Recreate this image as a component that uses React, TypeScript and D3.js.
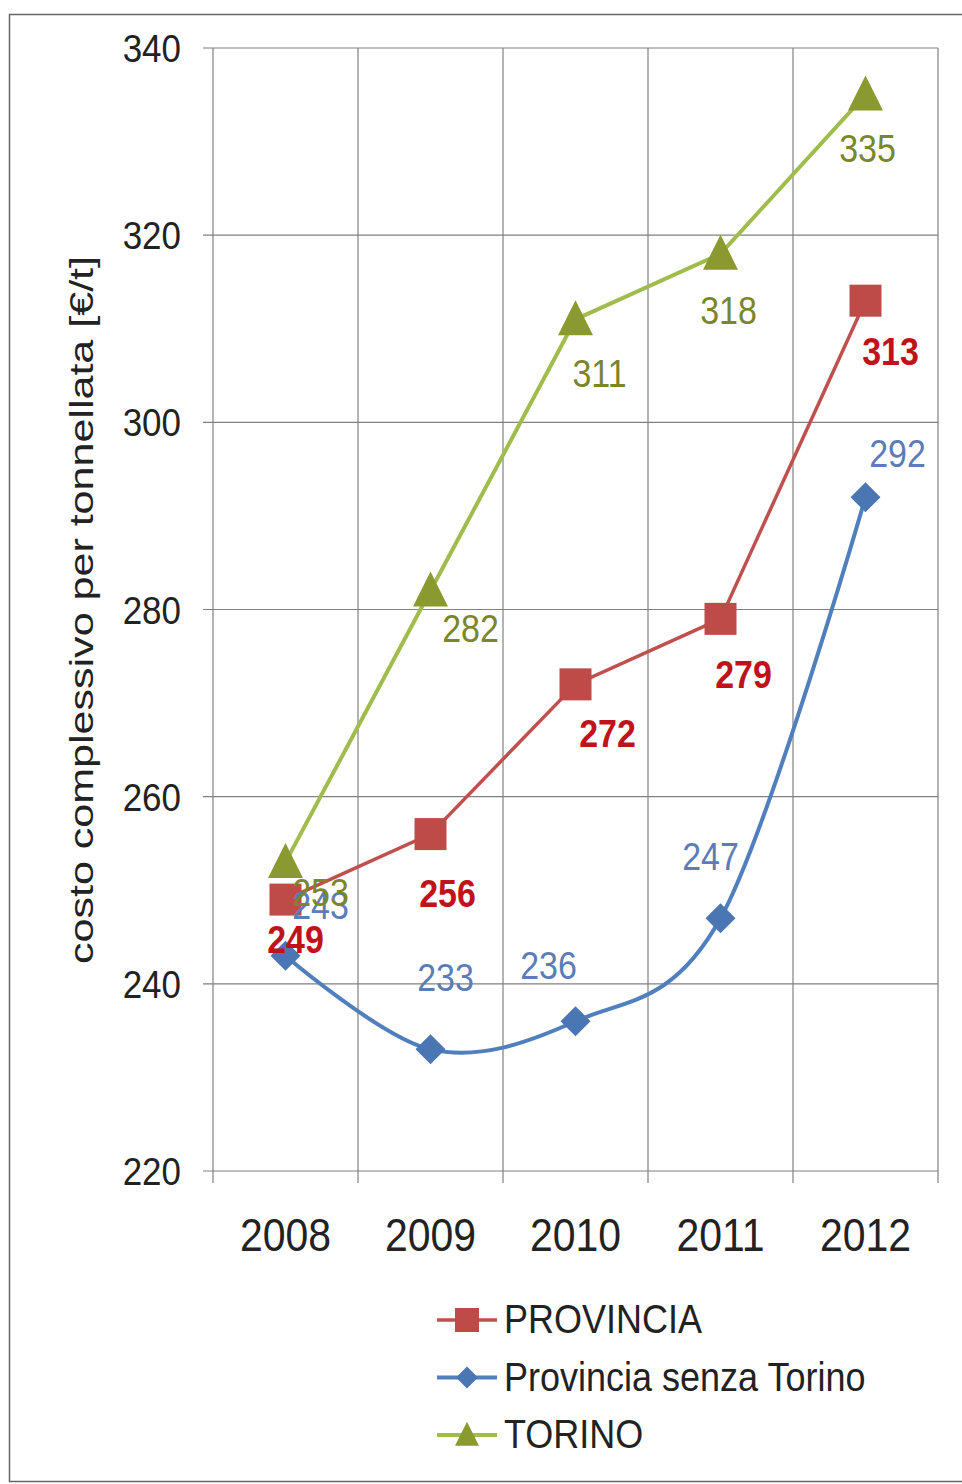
import React from "react";
import * as d3 from "d3";

const years = ["2008", "2009", "2010", "2011", "2012"];
const provincia = [249, 256, 272, 279, 313];
const senzaTorino = [243, 233, 236, 247, 292];
const torino = [253, 282, 311, 318, 335];
const yTicks = [220, 240, 260, 280, 300, 320, 340];
const yTitle = "costo complessivo per tonnellata [€/t]";
const legendLabels = ["PROVINCIA", "Provincia senza Torino", "TORINO"];

// label offsets (layout only): [dx, dy] of label centre from point
const provLabelOff = [[10, 40], [17, 60], [32, 50], [23, 56], [25, 51]];
const senzaLabelOff = [[35, -50], [15, -71], [-27, -55], [-10, -61], [32, -43]];
const torinoLabelOff = [[35, 31], [40, 38], [24, 55], [8, 57], [2, 54]];

const W = 962, H = 1484;
const L = 213, R = 938, T = 48, B = 1171;
const SY = 1.12;
const FONT = "'Liberation Sans', Arial, sans-serif";

function ST({ x, y, size, fill, anchor = "middle", weight = "normal", children }: any) {
  return (
    <text transform={`translate(${x},${y}) scale(1,${SY})`} fontSize={size} fill={fill}
      textAnchor={anchor} fontWeight={weight} fontFamily={FONT}>{children}</text>
  );
}

function marker(kind: string, x: number, y: number, s: number, fill: string, key?: any) {
  if (kind === "square") return <rect key={key} x={x - s / 2} y={y - s / 2} width={s} height={s} fill={fill} />;
  if (kind === "diamond") return <path key={key} d={`M${x},${y - s / 2}L${x + s / 2},${y}L${x},${y + s / 2}L${x - s / 2},${y}Z`} fill={fill} />;
  return <path key={key} d={`M${x},${y - s * 0.55}L${x + s / 2},${y + s * 0.45}L${x - s / 2},${y + s * 0.45}Z`} fill={fill} />;
}

export default function App() {
  const x = d3.scaleBand().domain(years).range([L, R]);
  const cx = (i: number) => (x(years[i]) as number) + x.bandwidth() / 2;
  const y = d3.scaleLinear().domain([220, 340]).range([B, T]);

  const straight = d3.line<number>().x((_, i) => cx(i)).y((d) => y(d));
  const smooth = d3.line<number>().x((_, i) => cx(i)).y((d) => y(d)).curve(d3.curveCardinal.tension(0));

  const series = [
    { name: legendLabels[0], data: provincia, line: "#c0504d", mk: "#be4b48", lab: "#c0121c", kind: "square", size: 32, path: straight, off: provLabelOff, weight: "bold", lw: 3.5 },
    { name: legendLabels[1], data: senzaTorino, line: "#4f7fbd", mk: "#4a76b4", lab: "#5b7cb8", kind: "diamond", size: 30, path: smooth, off: senzaLabelOff, weight: "normal", lw: 4 },
    { name: legendLabels[2], data: torino, line: "#9fbc4c", mk: "#8a9a30", lab: "#7a862a", kind: "triangle", size: 35, path: straight, off: torinoLabelOff, weight: "normal", lw: 4 },
  ];

  const bounds = x.domain().map((d) => x(d) as number).concat([R]);

  return (
    <svg width={W} height={H} style={{ position: "absolute", left: 0, top: 0, background: "#fff" }}>
      <rect x={9.5} y={14.5} width={970} height={1467} fill="#fff" stroke="#666" strokeWidth={1.5} />
      {yTicks.map((t) => (
        <line key={"h" + t} x1={L - 10} x2={R} y1={y(t)} y2={y(t)} stroke="#808080" strokeWidth={1.2} />
      ))}
      {bounds.map((b, i) => (
        <line key={"v" + i} x1={b} x2={b} y1={T} y2={B + 12} stroke="#808080" strokeWidth={1.2} />
      ))}
      {yTicks.map((t) => (
        <ST key={"yt" + t} x={181} y={y(t) + 14} size={35} fill="#222" anchor="end">{t}</ST>
      ))}
      {years.map((yr, i) => (
        <ST key={"xl" + yr} x={cx(i)} y={1251} size={41} fill="#222">{yr}</ST>
      ))}
      <text transform={`translate(93,610) rotate(-90)`} fontSize={34} fill="#222" fontFamily={FONT}
        textAnchor="middle" textLength={708} lengthAdjust="spacingAndGlyphs">{yTitle}</text>
      {series.map((s) => (
        <g key={s.name}>
          <path d={s.path(s.data) as string} fill="none" stroke={s.line} strokeWidth={s.lw} />
          {s.data.map((v, i) => marker(s.kind, cx(i), y(v), s.size, s.mk, i))}
        </g>
      ))}
      {series.map((s) => (
        <g key={"lab" + s.name}>
          {s.data.map((v, i) => (
            <ST key={i} x={cx(i) + s.off[i][0]} y={y(v) + s.off[i][1] + 13} size={34} fill={s.lab} weight={s.weight}>{v}</ST>
          ))}
        </g>
      ))}
      {series.map((s, i) => {
        const ly = 1320 + i * 57.5;
        return (
          <g key={"lg" + s.name}>
            <line x1={437} x2={497} y1={ly} y2={ly} stroke={s.line} strokeWidth={s.lw} />
            {marker(s.kind, 467, ly, s.kind === "diamond" ? 22 : 24, s.mk)}
            <ST x={504} y={ly + 13} size={36} fill="#222" anchor="start">{s.name}</ST>
          </g>
        );
      })}
    </svg>
  );
}
